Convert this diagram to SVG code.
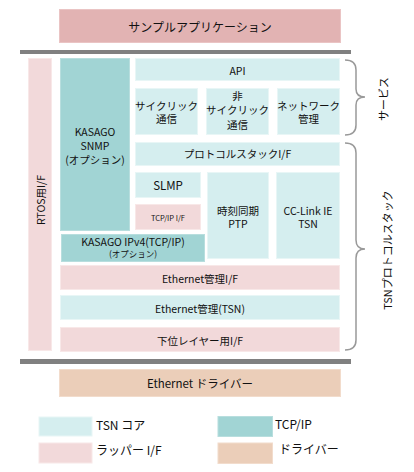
<svg xmlns="http://www.w3.org/2000/svg" width="414" height="472" viewBox="0 0 414 472">
<style>
text{font-family:"Noto Sans CJK JP","Noto Sans",sans-serif;fill:#111;text-anchor:middle;dominant-baseline:central;font-size:10.5px}
.core{fill:#D5EEEF;stroke:#E8F6F6;stroke-width:1}
.tcp{fill:#A1D4D4;stroke:#B8DEDE;stroke-width:1}
.wrap{fill:#F2D9DA;stroke:#F8E8E8;stroke-width:1}
.drv{fill:#EBCEB9;stroke:#F2DCCC;stroke-width:1}
.app{fill:#E2B3B3;stroke:#EAC4C4;stroke-width:1}
.bar{fill:#808080}
.brace{fill:none;stroke:#999;stroke-width:1.5}
text.lg{text-anchor:start;font-size:12px}
</style>
<g id="app"><rect class="app" x="59.5" y="9.5" width="281" height="33"/><text x="200" y="26" style="font-size:12px">サンプルアプリケーション</text></g>
<rect class="bar" x="20" y="50" width="331" height="4"/>
<g id="rtos"><rect class="wrap" x="28.5" y="58.5" width="23" height="292"/><text transform="translate(40,200) rotate(-90)">RTOS用I/F</text></g>
<g id="snmp"><rect class="tcp" x="60.5" y="58.5" width="69" height="172"/><text x="95" y="131">KASAGO</text><text x="95" y="145.5">SNMP</text><text x="95" y="159.5">(オプション)</text></g>
<g id="api"><rect class="core" x="135.5" y="58.5" width="204" height="22"/><text x="237.5" y="70">API</text></g>
<g id="cyclic"><rect class="core" x="135.5" y="88.5" width="62" height="46"/><text x="166.5" y="105">サイクリック</text><text x="166.5" y="118.5">通信</text></g>
<g id="acyclic"><rect class="core" x="206.5" y="88.5" width="62" height="46"/><text x="237.5" y="95">非</text><text x="237.5" y="109.5">サイクリック</text><text x="237.5" y="124">通信</text></g>
<g id="netmgmt"><rect class="core" x="277.5" y="88.5" width="62" height="46"/><text x="308.5" y="105">ネットワーク</text><text x="308.5" y="118.5">管理</text></g>
<g id="psif"><rect class="core" x="135.5" y="142.5" width="204" height="23"/><text x="237.5" y="153.5">プロトコルスタックI/F</text></g>
<g id="slmp"><rect class="core" x="135.5" y="172.5" width="65" height="25"/><text x="168" y="185" style="font-size:11.5px">SLMP</text></g>
<g id="tcpif"><rect class="wrap" x="135.5" y="204.5" width="65" height="25"/><text x="168" y="217" style="font-size:7.5px">TCP/IP I/F</text></g>
<g id="ptp"><rect class="core" x="207.5" y="172.5" width="61" height="86"/><text x="238" y="210">時刻同期</text><text x="238" y="223.5">PTP</text></g>
<g id="cclink"><rect class="core" x="276.5" y="172.5" width="63" height="86"/><text x="308" y="210">CC-Link IE</text><text x="308" y="223.5">TSN</text></g>
<g id="ipv4"><rect class="tcp" x="61.5" y="234.5" width="143" height="27"/><text x="133" y="241" style="font-size:10.5px">KASAGO IPv4(TCP/IP)</text><text x="133" y="253" style="font-size:8.5px">(オプション)</text></g>
<g id="ethif"><rect class="wrap" x="60.5" y="265.5" width="279" height="24"/><text x="200" y="278">Ethernet管理I/F</text></g>
<g id="ethtsn"><rect class="core" x="60.5" y="295.5" width="279" height="24"/><text x="200" y="308">Ethernet管理(TSN)</text></g>
<g id="lowif"><rect class="wrap" x="60.5" y="327.5" width="279" height="24"/><text x="200" y="340">下位レイヤー用I/F</text></g>
<rect class="bar" x="20" y="359" width="331" height="5"/>
<g id="driver"><rect class="drv" x="59.5" y="369.5" width="281" height="27"/><text x="200" y="383" style="font-size:11.5px">Ethernet ドライバー</text></g>
<g id="connectors">
<path class="brace" d="M345,60 Q356,60 356,70 L356,89 Q356,97 365,97 Q356,97 356,105 L356,125 Q356,135 345,135"/>
<path class="brace" d="M345,143 Q356,143 356,153 L356,240 Q356,249 365,249 Q356,249 356,258 L356,340 Q356,350 345,350"/>
</g>
<g id="lbl-service"><text transform="translate(383,99) rotate(-90)" style="font-size:11px">サービス</text></g>
<g id="lbl-tsn"><text transform="translate(387,250) rotate(-90)" style="font-size:11px">TSNプロトコルスタック</text></g>
<g id="legend">
<rect class="core" x="39" y="417" width="53" height="19"/><text class="lg" x="96" y="424">TSN コア</text>
<rect class="wrap" x="39" y="443" width="53" height="20"/><text class="lg" x="96" y="449">ラッパー I/F</text>
<rect class="tcp" x="218" y="416.5" width="54.5" height="20"/><text class="lg" x="275" y="423">TCP/IP</text>
<rect class="drv" x="218" y="443" width="54.5" height="20.5"/><text class="lg" x="279" y="448">ドライバー</text>
</g>
</svg>
